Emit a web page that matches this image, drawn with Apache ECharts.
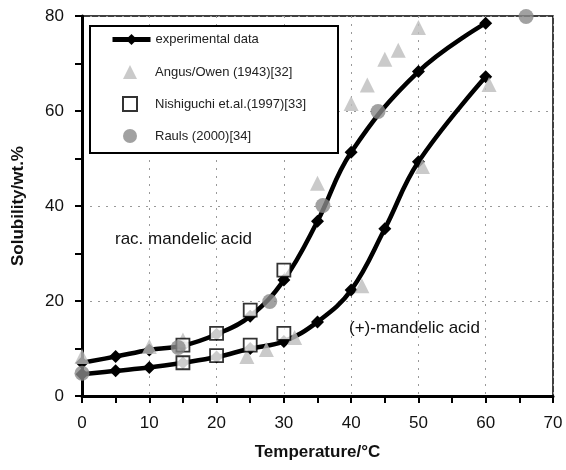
<!DOCTYPE html>
<html>
<head>
<meta charset="utf-8">
<script src="https://cdn.jsdelivr.net/npm/echarts@6/dist/echarts.min.js"></script>
<style>html,body{margin:0;padding:0;background:#fff}#c{width:566px;height:470px}</style>
</head>
<body>
<div id="c"></div>
<script>
// Experimental data: racemic mandelic acid
const racT = [0, 5, 10, 15, 20, 25, 30, 35, 40, 50, 60];
const racS = [7.0, 8.3, 9.7, 10.6, 13.0, 16.8, 24.4, 36.8, 51.3, 68.3, 78.5];
// Experimental data: (+)-mandelic acid
const plusT = [0, 5, 10, 15, 20, 25, 30, 35, 40, 45, 50, 60];
const plusS = [4.6, 5.3, 6.0, 7.0, 8.2, 10.0, 11.5, 15.6, 22.3, 35.2, 49.3, 67.2];
// Angus/Owen (1943)
const angusT = [0, 10, 15, 24.5, 27.4, 31.6, 35, 40, 42.4, 45, 47, 50, 41.6, 50.6, 60.5];
const angusS = [8.3, 10.4, 11.8, 8.3, 9.8, 12.3, 44.8, 61.6, 65.5, 70.9, 72.8, 77.6, 23.2, 48.3, 65.6];
// Nishiguchi et al. (1997)
const nishiT = [15, 20, 25, 30, 15, 20, 25, 30];
const nishiS = [10.7, 13.2, 18.1, 26.5, 7.0, 8.5, 10.7, 13.2];
// Rauls (2000)
const raulsT = [0, 14.3, 27.9, 35.8, 44, 66];
const raulsS = [4.8, 10.2, 19.9, 40.1, 59.9, 79.9];

const xTicks = [0, 10, 20, 30, 40, 50, 60, 70];
const yTicks = [0, 20, 40, 60, 80];

const zip = (a, b) => a.map((v, i) => [v, b[i]]);
const FONT = '"Liberation Sans", Arial, sans-serif';

const chart = echarts.init(document.getElementById('c'), null, {renderer: 'canvas'});
const lineSeries = (data) => ({
  name: 'experimental data', type: 'line', data: data, smooth: 0.4,
  symbol: 'diamond', symbolSize: 13, showSymbol: true,
  lineStyle: {color: '#000', width: 4.5},
  itemStyle: {color: '#000'}, z: 3, animation: false
});
const legendText = {fontFamily: FONT, fontSize: 13, color: '#222'};
chart.setOption({
  animation: false,
  backgroundColor: '#fff',
  grid: {left: 82, right: 13, top: 16, bottom: 74, show: true, borderColor: '#000', borderWidth: 1.5, backgroundColor: 'transparent'},
  legend: [
    {
      orient: 'vertical', left: 110, top: 33, padding: 0, z: 6,
      itemWidth: 38, itemHeight: 14,
      lineStyle: {width: 5},
      textStyle: legendText,
      data: ['experimental data']
    },
    {
      orient: 'vertical', left: 122, top: 65, padding: 0, z: 6,
      itemWidth: 14, itemHeight: 14, itemGap: 17,
      textStyle: Object.assign({padding: [0, 0, 0, 13]}, legendText),
      data: ['Angus/Owen (1943)[32]', 'Nishiguchi et.al.(1997)[33]', 'Rauls (2000)[34]']
    }
  ],
  xAxis: {
    type: 'value', min: xTicks[0], max: xTicks[xTicks.length - 1], interval: 10,
    name: 'Temperature/°C', nameLocation: 'middle', nameGap: 48,
    nameTextStyle: {fontFamily: FONT, fontSize: 17, fontWeight: 'bold', color: '#111'},
    axisLine: {onZero: false, lineStyle: {color: '#000', width: 3}},
    axisTick: {length: 7, lineStyle: {color: '#000', width: 2}},
    minorTick: {show: true, splitNumber: 2, length: 7, lineStyle: {color: '#000', width: 2}},
    axisLabel: {fontFamily: FONT, fontSize: 17, color: '#111', margin: 19, showMaxLabel: true},
    splitLine: {show: true, lineStyle: {color: '#999', width: 1, type: [2, 6]}}
  },
  yAxis: {
    type: 'value', min: yTicks[0], max: yTicks[yTicks.length - 1], interval: 20,
    name: 'Solubility/wt.%', nameLocation: 'middle', nameGap: 55,
    nameTextStyle: {fontFamily: FONT, fontSize: 17, fontWeight: 'bold', color: '#111'},
    axisLine: {onZero: false, lineStyle: {color: '#000', width: 3}},
    axisTick: {length: 7, lineStyle: {color: '#000', width: 2}},
    minorTick: {show: true, splitNumber: 2, length: 7, lineStyle: {color: '#000', width: 2}},
    axisLabel: {fontFamily: FONT, fontSize: 17, color: '#111', margin: 18},
    splitLine: {show: true, lineStyle: {color: '#999', width: 1, type: [2, 6]}}
  },
  series: [
    lineSeries(zip(racT, racS)),
    lineSeries(zip(plusT, plusS)),
    {name: 'Angus/Owen (1943)[32]', type: 'scatter', data: zip(angusT, angusS),
     symbol: 'triangle', symbolSize: 15, itemStyle: {color: '#bdbdbd'}, z: 4},
    {name: 'Nishiguchi et.al.(1997)[33]', type: 'scatter', data: zip(nishiT, nishiS),
     symbol: 'rect', symbolSize: 13, itemStyle: {color: '#fff', borderColor: '#000', borderWidth: 1.8}, z: 5},
    {name: 'Rauls (2000)[34]', type: 'scatter', data: zip(raulsT, raulsS),
     symbol: 'circle', symbolSize: 15, itemStyle: {color: '#8a8a8a'}, z: 6}
  ],
  graphic: [
    {type: 'rect', left: 89, top: 25, z: 5, shape: {width: 248, height: 127},
     style: {fill: '#fff', stroke: '#000', lineWidth: 2}},
    {type: 'text', left: 115, top: 231, z: 10, style: {text: 'rac. mandelic acid', font: '17px ' + FONT, fill: '#111'}},
    {type: 'text', left: 349, top: 320, z: 10, style: {text: '(+)-mandelic acid', font: '17px ' + FONT, fill: '#111'}}
  ]
});
</script>
</body>
</html>
